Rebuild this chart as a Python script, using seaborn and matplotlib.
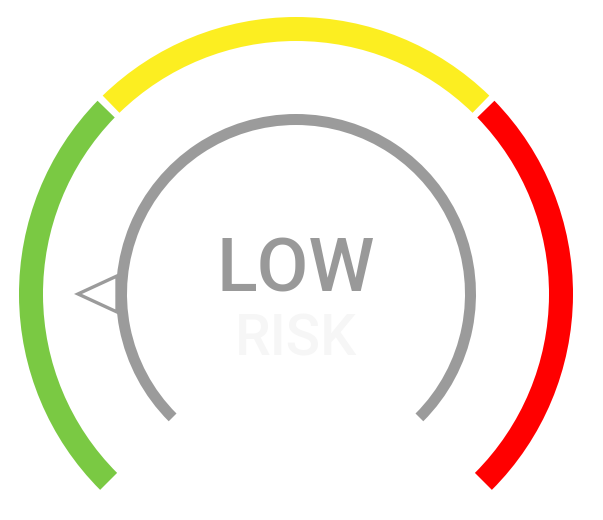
import numpy as np
import matplotlib
matplotlib.use("Agg")
import matplotlib.pyplot as plt
from matplotlib.patches import Wedge, Polygon
import seaborn as sns

# gauge data: value scale 0..100 sweeps 225deg -> -45deg
SEGMENT_NAMES  = ["LOW", "MEDIUM", "HIGH"]
SEGMENT_BOUNDS = [0, 33.33, 66.67, 100]
SEGMENT_COLORS = ["#7ac943", "#fcee21", "#ff0000"]
POINTER_VALUE  = 16.67
LABEL_MAIN     = "LOW"
LABEL_SUB      = "RISK"

GRAY   = "#9b9b9b"
W, H   = 603, 520
CX, CY = 296, H - 294      # gauge centre in pixel-like data units
START_ANG, SWEEP = 225.0, 270.0
GAP = 0.75                 # half gap between coloured bands, degrees


def val2ang(v):
    return START_ANG - SWEEP * v / 100.0


sns.set_theme(style="white")
plt.rcParams["font.family"] = ["Roboto", "DejaVu Sans"]

fig = plt.figure(figsize=(W / 100, H / 100), dpi=100)
ax = fig.add_axes([0, 0, 1, 1])
ax.set_xlim(0, W)
ax.set_ylim(0, H)
ax.axis("off")

# outer coloured bands
n = len(SEGMENT_NAMES)
for i, (name, col) in enumerate(zip(SEGMENT_NAMES, SEGMENT_COLORS)):
    a_hi = val2ang(SEGMENT_BOUNDS[i])
    a_lo = val2ang(SEGMENT_BOUNDS[i + 1])
    if i > 0:
        a_hi -= GAP
    if i < n - 1:
        a_lo += GAP
    ax.add_patch(Wedge((CX, CY), 277, a_lo, a_hi, width=24,
                       facecolor=col, edgecolor="none", label=name))

# pointer triangle (drawn under the inner arc so its base merges)
pa = np.deg2rad(val2ang(POINTER_VALUE))
ux, uy = np.cos(pa), np.sin(pa)
px, py = -uy, ux
tip  = (CX + 218 * ux, CY + 218 * uy)
b1   = (CX + 179 * ux + 18 * px, CY + 179 * uy + 18 * py)
b2   = (CX + 179 * ux - 18 * px, CY + 179 * uy - 18 * py)
ax.add_patch(Polygon([tip, b1, b2], closed=True, facecolor="white",
                     edgecolor=GRAY, linewidth=2.4, joinstyle="miter", zorder=2))

# inner gray arc
ax.add_patch(Wedge((CX, CY), 180, val2ang(100), val2ang(0), width=11,
                   facecolor=GRAY, edgecolor="none", zorder=3))

# labels
ax.text(CX, H - 291, LABEL_MAIN, ha="center", va="baseline",
        fontsize=54, fontweight="medium", color="#999999", zorder=4)
ax.text(CX, H - 355, LABEL_SUB, ha="center", va="baseline",
        fontsize=41, fontweight="medium", color="#f6f6f6", zorder=4)

fig.savefig("out.png", dpi=100, facecolor="white")
